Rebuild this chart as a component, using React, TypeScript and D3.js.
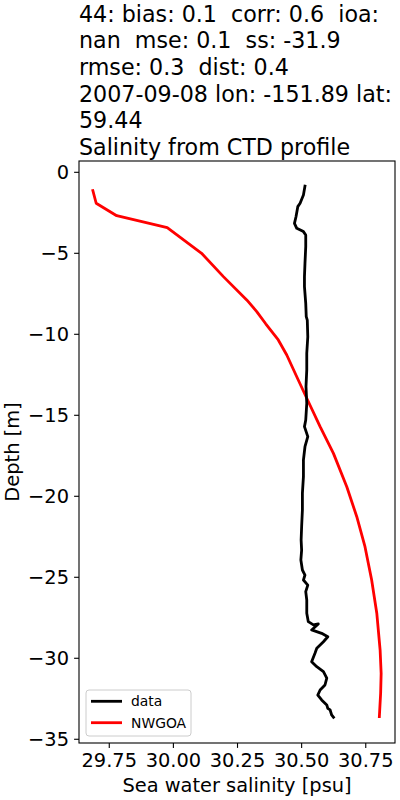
import React from "react";
import * as d3 from "d3";

const titleLines = [
  "44: bias: 0.1  corr: 0.6  ioa:",
  "nan  mse: 0.1  ss: -31.9",
  "rmse: 0.3  dist: 0.4",
  "2007-09-08 lon: -151.89 lat:",
  "59.44",
  "Salinity from CTD profile",
];

const xTicks = [29.75, 30.0, 30.25, 30.5, 30.75];
const yTicks = [0, -5, -10, -15, -20, -25, -30, -35];

const obsSalinity = [
  30.513, 30.507, 30.494, 30.485, 30.478, 30.472, 30.481, 30.507, 30.516, 30.516,
  30.513, 30.511, 30.511, 30.516, 30.518, 30.522, 30.524, 30.52, 30.52, 30.517,
  30.52, 30.516, 30.511, 30.524, 30.513, 30.507, 30.507, 30.503, 30.503, 30.5,
  30.498, 30.5, 30.497, 30.503, 30.513, 30.507, 30.524, 30.516, 30.52, 30.52,
  30.526, 30.546, 30.565, 30.539, 30.578, 30.602, 30.585, 30.559, 30.552, 30.539,
  30.559, 30.585, 30.598, 30.591, 30.572, 30.563, 30.578, 30.598, 30.602, 30.611,
  30.617, 30.624,
];
const obsDepth = [
  -0.85, -1.4, -1.91, -2.12, -2.74, -3.15, -3.46, -3.66, -3.87, -4.59,
  -5.62, -6.44, -7.06, -8.09, -8.91, -9.12, -10.15, -11.17, -12.2, -13.23,
  -14.26, -15.29, -15.7, -16.32, -16.94, -17.76, -18.79, -19.81, -20.85, -21.88,
  -22.7, -23.32, -23.93, -24.55, -24.86, -25.17, -25.48, -25.89, -26.4, -27.22,
  -27.74, -27.94, -27.88, -28.25, -28.46, -28.67, -28.98, -29.38, -29.69, -30.21,
  -30.52, -30.83, -31.23, -31.65, -31.96, -32.27, -32.57, -32.88, -33.09, -33.19,
  -33.5, -33.64,
];

const modelSalinity = [
  29.686, 29.699, 29.779, 29.976, 30.11, 30.195, 30.286, 30.325, 30.36, 30.409,
  30.442, 30.481, 30.52, 30.572, 30.624, 30.676, 30.715, 30.747, 30.773, 30.793,
  30.806, 30.81, 30.808, 30.803,
];
const modelDepth = [
  -1.13, -1.91, -2.68, -3.42, -5.0, -6.44, -7.88, -8.6, -9.35, -10.35,
  -11.28, -12.62, -13.95, -15.7, -17.35, -19.41, -21.26, -23.11, -25.17, -27.22,
  -29.49, -30.93, -32.16, -33.6,
];

const legendLabels = ["data", "NWGOA"];
const seriesColors = ["#000000", "#ff0000"];

const FONT = "DejaVu Sans, sans-serif";

export default function App() {
  const left = 79, right = 395, top = 161, bottom = 743;
  const x = d3.scaleLinear().domain([29.632, 30.864]).range([left, right]);
  const y = d3.scaleLinear().domain([0.698, -35.23]).range([top, bottom]);

  const line = d3
    .line<[number, number]>()
    .x((d) => x(d[0]))
    .y((d) => y(d[1]));

  const obs: [number, number][] = obsSalinity.map((s, i) => [s, obsDepth[i]]);
  const mod: [number, number][] = modelSalinity.map((s, i) => [s, modelDepth[i]]);

  const fmtX = (v: number) => v.toFixed(2);
  const fmtY = (v: number) => (v < 0 ? "\u2212" + Math.abs(v) : String(v));

  return (
    <svg
      width={400}
      height={800}
      style={{ position: "absolute", left: 0, top: 0, background: "#fff" }}
      fontFamily={FONT}
    >
      <rect x={0} y={0} width={400} height={800} fill="#fff" />
      {titleLines.map((t, i) => (
        <text key={i} x={79} y={21.5 + i * 26.7} fontSize={22.2} fill="#000" style={{ whiteSpace: "pre" }}>
          {t}
        </text>
      ))}

      <clipPath id="clip">
        <rect x={left} y={top} width={right - left} height={bottom - top} />
      </clipPath>
      <g clipPath="url(#clip)">
        <path d={line(mod) || ""} fill="none" stroke={seriesColors[1]} strokeWidth={2.8} strokeLinejoin="round" strokeLinecap="square" />
        <path d={line(obs) || ""} fill="none" stroke={seriesColors[0]} strokeWidth={2.8} strokeLinejoin="round" strokeLinecap="square" />
      </g>

      <rect x={left} y={top} width={right - left} height={bottom - top} fill="none" stroke="#000" strokeWidth={1.1} />

      {xTicks.map((t) => (
        <g key={t}>
          <line x1={x(t)} x2={x(t)} y1={bottom} y2={bottom + 4.9} stroke="#000" strokeWidth={1.1} />
          <text x={x(t)} y={767} fontSize={19.4} textAnchor="middle" fill="#000">
            {fmtX(t)}
          </text>
        </g>
      ))}
      {yTicks.map((t) => (
        <g key={t}>
          <line x1={left - 4.9} x2={left} y1={y(t)} y2={y(t)} stroke="#000" strokeWidth={1.1} />
          <text x={69} y={y(t)} dy="0.36em" fontSize={19.4} textAnchor="end" fill="#000">
            {fmtY(t)}
          </text>
        </g>
      ))}

      <text x={(left + right) / 2} y={792} fontSize={19.4} textAnchor="middle" fill="#000">
        Sea water salinity [psu]
      </text>
      <text
        transform={`translate(19, ${(top + bottom) / 2}) rotate(-90)`}
        fontSize={19.4}
        textAnchor="middle"
        fill="#000"
      >
        Depth [m]
      </text>

      <g>
        <rect x={86} y={690} width={105} height={46} rx={3} fill="#fff" fillOpacity={0.8} stroke="#cccccc" strokeWidth={1} />
        {legendLabels.map((lab, i) => (
          <g key={lab}>
            <line x1={91} x2={122} y1={701.3 + i * 21.4} y2={701.3 + i * 21.4} stroke={seriesColors[i]} strokeWidth={2.8} />
            <text x={131} y={701.3 + i * 21.4} dy="0.36em" fontSize={13.9} fill="#000">
              {lab}
            </text>
          </g>
        ))}
      </g>
    </svg>
  );
}
